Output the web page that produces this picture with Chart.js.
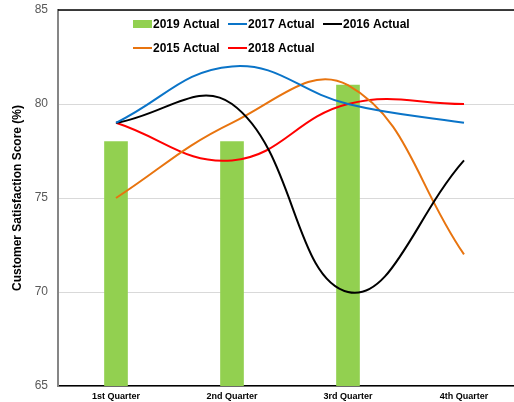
<!DOCTYPE html>
<html lang="en">
<head>
    <meta charset="UTF-8">
    <title>Customer Satisfaction</title>
    <script src="https://cdn.jsdelivr.net/npm/chart.js"></script>
    <style>
        body {
            margin: 0;
            overflow: hidden;
            background: #fff;
            font-family: 'Liberation Sans', Arial, sans-serif;
        }
        #wrap {
            width: 530px;
            height: 402px;
        }
    </style>
</head>
<body>

<div id="wrap"><canvas id="satChart"></canvas></div>

<script>
    const quarters = ['1st Quarter', '2nd Quarter', '3rd Quarter', '4th Quarter'];
    const actual2019 = [78, 78, 81, null];
    const actual2017 = [79, 82, 80, 79];
    const actual2016 = [79, 80, 70, 77];
    const actual2015 = [75, 79, 81, 72];
    const actual2018 = [79, 77, 80, 80];
    const yTicks = [65, 70, 75, 80, 85];

    // legend drawn inside the plot, two rows like the original
    const legendRows = [
        [{ idx: 0, x: 133 }, { idx: 1, x: 228 }, { idx: 2, x: 323 }],
        [{ idx: 3, x: 133 }, { idx: 4, x: 228 }]
    ];

    const plotFrame = {
        id: 'plotFrame',
        afterDatasetsDraw(chart) {
            const ctx = chart.ctx;
            const area = chart.chartArea;
            ctx.save();
            ctx.strokeStyle = '#000';
            ctx.lineWidth = 1.5;
            ctx.beginPath();
            ctx.moveTo(area.left, area.top);
            ctx.lineTo(area.right, area.top);
            ctx.stroke();

            ctx.font = 'bold 12px "Liberation Sans", Arial, sans-serif';
            ctx.textBaseline = 'middle';
            ctx.fillStyle = '#000';
            legendRows.forEach((row, r) => {
                const y = 24 + r * 24;
                row.forEach(item => {
                    const ds = chart.data.datasets[item.idx];
                    if (ds.type === 'bar') {
                        ctx.fillStyle = ds.backgroundColor;
                        ctx.fillRect(item.x, y - 4, 19, 8);
                    } else {
                        ctx.strokeStyle = ds.borderColor;
                        ctx.lineWidth = 2;
                        ctx.beginPath();
                        ctx.moveTo(item.x, y);
                        ctx.lineTo(item.x + 19, y);
                        ctx.stroke();
                    }
                    ctx.fillStyle = '#000';
                    ctx.fillText(ds.label, item.x + 20, y + 1);
                });
            });
            ctx.restore();
        }
    };

    function lineSet(label, data, color) {
        return {
            type: 'line',
            label: label,
            data: data,
            borderColor: color,
            backgroundColor: color,
            borderWidth: 2,
            tension: 0.42,
            pointRadius: 0,
            fill: false,
            order: 0
        };
    }

    new Chart(document.getElementById('satChart'), {
        data: {
            labels: quarters,
            datasets: [
                {
                    type: 'bar',
                    label: '2019 Actual',
                    data: actual2019,
                    backgroundColor: '#92d050',
                    barThickness: 23,
                    order: 1
                },
                lineSet('2017 Actual', actual2017, '#0a74c8'),
                lineSet('2016 Actual', actual2016, '#000000'),
                lineSet('2015 Actual', actual2015, '#e8740f'),
                lineSet('2018 Actual', actual2018, '#ff0000')
            ]
        },
        options: {
            responsive: true,
            maintainAspectRatio: false,
            animation: false,
            layout: {
                padding: { top: 10, right: 8, left: 0, bottom: 0 }
            },
            plugins: {
                legend: { display: false },
                tooltip: { enabled: false }
            },
            scales: {
                x: {
                    offset: true,
                    grid: { display: false, drawTicks: false },
                    border: { color: '#000', width: 1.5 },
                    ticks: {
                        padding: 5,
                        color: '#000',
                        font: { family: '"Liberation Sans", Arial', size: 9, weight: 'bold' },
                        maxRotation: 0
                    },
                    afterFit(scale) { scale.height = 16; }
                },
                y: {
                    min: 65,
                    max: 85,
                    afterBuildTicks(scale) {
                        scale.ticks = yTicks.map(v => ({ value: v }));
                    },
                    grid: { color: '#d9d9d9', lineWidth: 1, drawTicks: false },
                    border: { color: '#868686', width: 2 },
                    ticks: {
                        padding: 10,
                        color: '#595959',
                        font: { family: '"Liberation Sans", Arial', size: 12 }
                    },
                    title: {
                        display: true,
                        text: 'Customer Satisfaction Score (%)',
                        color: '#000',
                        font: { family: '"Liberation Sans", Arial', size: 12, weight: 'bold' },
                        padding: { top: 10, bottom: 0 }
                    },
                    afterFit(scale) {
                        scale.width = 58;
                        scale.paddingTop = 0;
                        scale.paddingBottom = 0;
                    }
                }
            }
        },
        plugins: [plotFrame]
    });
</script>

</body>
</html>
